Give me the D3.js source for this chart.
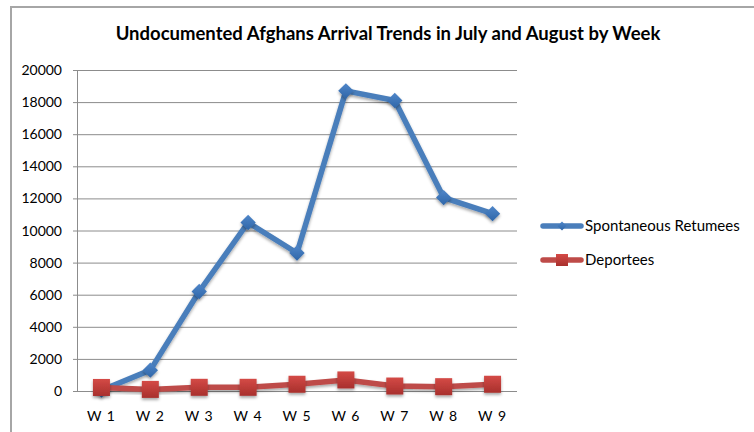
<!DOCTYPE html>
<html>
<head>
<meta charset="utf-8">
<script src="https://cdn.jsdelivr.net/npm/d3@7"></script>
<style>
  body { margin: 0; background: #fff; }
  text { font-family: Lato, "Open Sans", sans-serif; }
</style>
</head>
<body>
<div id="chart"></div>
<script>
// data
const weeks = ["W 1", "W 2", "W 3", "W 4", "W 5", "W 6", "W 7", "W 8", "W 9"];
const spontaneous = [50, 1300, 6200, 10500, 8600, 18700, 18100, 12050, 11050];
const deportees = [220, 100, 230, 230, 420, 690, 310, 270, 420];
const yTicks = [0, 2000, 4000, 6000, 8000, 10000, 12000, 14000, 16000, 18000, 20000];

const width = 754, height = 432;
const margin = { left: 77, top: 70, right: 237, bottom: 41 };
const innerWidth = width - margin.left - margin.right;
const innerHeight = height - margin.top - margin.bottom;

const svg = d3.select("#chart").append("svg")
  .attr("width", width)
  .attr("height", height);

// drop shadow for markers
const defs = svg.append("defs");
const f = defs.append("filter").attr("id", "shadow")
  .attr("x", "-50%").attr("y", "-50%").attr("width", "200%").attr("height", "200%");
f.append("feDropShadow").attr("dx", 0).attr("dy", 2).attr("stdDeviation", 1.5)
  .attr("flood-color", "#000").attr("flood-opacity", 0.35);

const redGrad = defs.append("linearGradient").attr("id", "redGrad")
  .attr("x1", 0).attr("y1", 0).attr("x2", 0).attr("y2", 1);
redGrad.append("stop").attr("offset", "0%").attr("stop-color", "#d44a46");
redGrad.append("stop").attr("offset", "100%").attr("stop-color", "#a8302d");

const blueGrad = defs.append("linearGradient").attr("id", "blueGrad")
  .attr("x1", 0).attr("y1", 0).attr("x2", 0).attr("y2", 1);
blueGrad.append("stop").attr("offset", "0%").attr("stop-color", "#4f86c9");
blueGrad.append("stop").attr("offset", "100%").attr("stop-color", "#2f66a8");

// outer frame
svg.append("path")
  .attr("d", `M11,${height + 5} V7 H${width + 5}`)
  .attr("fill", "none")
  .attr("stroke", "#a6a6a6")
  .attr("stroke-width", 2);

svg.append("text")
  .attr("x", 388)
  .attr("y", 40)
  .attr("text-anchor", "middle")
  .attr("font-size", 18.5)
  .attr("font-weight", "bold")
  .attr("fill", "#000")
  .text("Undocumented Afghans Arrival Trends in July and August by Week");

const g = svg.append("g")
  .attr("transform", `translate(${margin.left}, ${margin.top})`);

const x = d3.scaleBand()
  .domain(weeks)
  .range([0, innerWidth]);

const y = d3.scaleLinear()
  .domain([0, 20000])
  .range([innerHeight, 0]);

// gridlines
g.append("g")
  .selectAll("line")
  .data(yTicks)
  .enter()
  .append("line")
  .attr("x1", -4)
  .attr("x2", innerWidth)
  .attr("y1", d => y(d) + 0.5)
  .attr("y2", d => y(d) + 0.5)
  .attr("stroke", "#8c8c8c")
  .attr("stroke-width", 1);

// y axis line
g.append("line")
  .attr("x1", 0.5).attr("x2", 0.5)
  .attr("y1", 0).attr("y2", innerHeight)
  .attr("stroke", "#8c8c8c");

// y labels
g.append("g")
  .selectAll("text")
  .data(yTicks)
  .enter()
  .append("text")
  .attr("x", -15)
  .attr("y", d => y(d) + 5)
  .attr("text-anchor", "end")
  .attr("font-size", 14)
  .text(d => d);

// x labels
g.append("g")
  .selectAll("text")
  .data(weeks)
  .enter()
  .append("text")
  .attr("x", d => x(d) + x.bandwidth() / 2)
  .attr("y", innerHeight + 30)
  .attr("text-anchor", "middle")
  .attr("font-size", 14)
  .attr("letter-spacing", 1)
  .text(d => d);

const line = d3.line()
  .x((d, i) => x(weeks[i]) + x.bandwidth() / 2)
  .y(d => y(d));

// blue series
g.append("path")
  .datum(spontaneous)
  .attr("d", line)
  .attr("fill", "none")
  .attr("stroke", "#4a7ebb")
  .attr("stroke-width", 5.5)
  .attr("stroke-linejoin", "round")
  .attr("filter", "url(#shadow)");

g.append("g")
  .selectAll("path")
  .data(spontaneous)
  .enter()
  .append("path")
  .attr("d", d3.symbol().type(d3.symbolDiamond2).size(150))
  .attr("transform", (d, i) => `translate(${x(weeks[i]) + x.bandwidth() / 2}, ${y(d)})`)
  .attr("fill", "url(#blueGrad)")
  .attr("filter", "url(#shadow)");

// red series
g.append("path")
  .datum(deportees)
  .attr("d", line)
  .attr("fill", "none")
  .attr("stroke", "#be4b48")
  .attr("stroke-width", 5.5)
  .attr("stroke-linejoin", "round")
  .attr("filter", "url(#shadow)");

g.append("g")
  .selectAll("rect")
  .data(deportees)
  .enter()
  .append("rect")
  .attr("x", (d, i) => x(weeks[i]) + x.bandwidth() / 2 - 8.5)
  .attr("y", d => y(d) - 8.5)
  .attr("width", 17)
  .attr("height", 17)
  .attr("fill", "url(#redGrad)")
  .attr("filter", "url(#shadow)");

// legend
const legend = svg.append("g");
const items = [
  { name: "Spontaneous Retumees", color: "#4a7ebb", y: 226, shape: "diamond" },
  { name: "Deportees", color: "#be4b48", y: 260, shape: "square" }
];
items.forEach(it => {
  legend.append("line")
    .attr("x1", 543).attr("x2", 581)
    .attr("y1", it.y).attr("y2", it.y)
    .attr("stroke", it.color)
    .attr("stroke-width", 5.5)
    .attr("stroke-linecap", "round");
  if (it.shape === "diamond") {
    legend.append("path")
      .attr("d", d3.symbol().type(d3.symbolDiamond2).size(50))
      .attr("transform", `translate(562, ${it.y})`)
      .attr("fill", "url(#blueGrad)");
  } else {
    legend.append("rect")
      .attr("x", 556).attr("y", it.y - 6)
      .attr("width", 12).attr("height", 12)
      .attr("fill", "url(#redGrad)");
  }
  legend.append("text")
    .attr("x", 585)
    .attr("y", it.y + 5)
    .attr("font-size", 15)
    .text(it.name);
});
</script>
</body>
</html>
